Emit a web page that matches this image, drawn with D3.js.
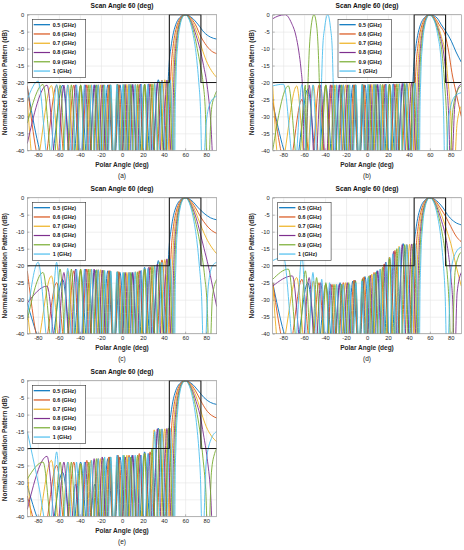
<!DOCTYPE html>
<html><head><meta charset="utf-8">
<script src="https://cdn.jsdelivr.net/npm/d3@7"></script>
<style>
html,body{margin:0;padding:0;background:#fff;}
svg{display:block;font-family:"Liberation Sans",Arial,sans-serif;}
</style></head>
<body>
<svg id="chart" width="464" height="550"></svg>
<script>
// ---------------- DATA ----------------
const freqLabels = ["0.5 (GHz)", "0.6 (GHz)", "0.7 (GHz)", "0.8 (GHz)", "0.9 (GHz)", "1 (GHz)"];
const panelLabels = ["(a)", "(b)", "(c)", "(d)", "(e)"];
const titleText = "Scan Angle 60 (deg)";
const xTickVals = [-80, -60, -40, -20, 0, 20, 40, 60, 80];
const yTickVals = [-40, -35, -30, -25, -20, -15, -10, -5, 0];
const maskAngles = [-90, 45, 45, 75, 75, 90];
const maskLevels = [-20, -20, 0, 0, -20, -20];
const NULL_DB = -46; // depth of pattern nulls (below the axis floor)

// sidelobe peak angles per frequency (deg)
const peaks05 = [-56.5, -39.3, -25.7, -13.5, -1.9, 9.6, 21.5, 34.5];
const peaks06 = [-62.1, -45.8, -33.4, -22.6, -12.5, -2.9, 6.7, 16.4, 26.7, 38.0];
const peaks07 = [-67.1, -51.1, -39.4, -29.5, -20.4, -11.9, -3.6, 4.6, 12.9, 21.5, 30.6, 40.7];
const peaks08 = [-71.2, -55.2, -44.1, -34.9, -26.5, -18.8, -11.3, -4.1, 3.1, 10.3, 17.7, 25.4, 33.6, 42.7];
const peaks09 = [-75.0, -58.8, -48.1, -39.3, -31.5, -24.3, -17.5, -10.9, -4.5, 1.9, 8.3, 14.8, 21.5, 28.5, 36.0, 44.4];
const peaks10 = [-79.7, -62.1, -51.6, -43.2, -35.7, -28.9, -22.6, -16.5, -10.6, -4.8, 0.9, 6.7, 12.5, 18.4, 24.6, 31.1, 38.0, 45.7];
// null angles per frequency (deg)
const nulls05 = [-69.1, -47.2, -32.3, -19.5, -7.7, 3.8, 15.4, 27.8, 41.8];
const nulls06 = [-75.3, -53.2, -39.3, -27.8, -17.5, -7.7, 1.9, 11.5, 21.5, 32.2, 44.4];
const nulls07 = [-83.2, -58.2, -45.0, -34.3, -24.9, -16.1, -7.8, 0.5, 8.7, 17.1, 25.9, 35.5, 46.3];
const nulls08 = [-62.1, -49.4, -39.3, -30.6, -22.6, -15.0, -7.7, -0.5, 6.7, 13.9, 21.5, 29.4, 38.0, 47.8];
const nulls09 = [-65.5, -53.0, -43.5, -35.2, -27.8, -20.8, -14.1, -7.6, -1.3, 5.1, 11.5, 18.1, 25.0, 32.2, 40.1, 49.0];
const nulls10 = [-69.1, -56.5, -47.2, -39.3, -32.3, -25.7, -19.5, -13.5, -7.7, -1.9, 3.8, 9.6, 15.4, 21.5, 27.8, 34.5, 41.8, 50.0];
// main-lobe rising edge per frequency [deg, dB]
const mainLeft05 = [[42.8,-27],[43.8,-20],[44.9,-14],[46.6,-9.5],[48.3,-6.2],[51,-3],[54.7,-0.9],[60,0]];
const mainLeft06 = [[45.3,-27],[46.1,-20],[47.1,-14],[48.5,-9.5],[50,-6.2],[52.5,-3],[55.5,-0.9],[60,0]];
const mainLeft07 = [[47.1,-27],[47.9,-20],[48.8,-14],[50,-9.5],[51.3,-6.2],[53.4,-3],[56.1,-0.9],[60,0]];
const mainLeft08 = [[48.6,-27],[49.2,-20],[50,-14],[51.1,-9.5],[52.3,-6.2],[54.2,-3],[56.6,-0.9],[60,0]];
const mainLeft09 = [[49.7,-27],[50.3,-20],[50.9,-14],[52,-9.5],[53,-6.2],[54.8,-3],[57,-0.9],[60,0]];
const mainLeft10 = [[50.6,-27],[51.2,-20],[51.8,-14],[52.8,-9.5],[53.7,-6.2],[55.3,-3],[57.3,-0.9],[60,0]];

// per panel: value at -90 deg followed by each sidelobe peak level (dB)
const levelsA = [
  [-21.5,-20.8,-20.8,-20.7,-20.7,-20.7,-20.6,-20.5,-19.2],
  [-21,-20.8,-20.8,-20.7,-20.7,-20.7,-20.7,-20.6,-20.6,-20.4,-19.3],
  [-25,-20.9,-20.8,-20.8,-20.7,-20.7,-20.7,-20.7,-20.6,-20.6,-20.5,-20.3,-19.2],
  [-38,-20.8,-20.8,-20.7,-20.7,-20.7,-20.7,-20.7,-20.6,-20.6,-20.6,-20.5,-20.4,-20.2,-19.3],
  [-32,-20.6,-20.8,-20.7,-20.7,-20.7,-20.7,-20.7,-20.7,-20.6,-20.6,-20.6,-20.6,-20.5,-20.4,-19.8,-19.3],
  [-25,-19.6,-20.6,-20.7,-20.7,-20.7,-20.7,-20.7,-20.7,-20.7,-20.6,-20.6,-20.6,-20.6,-20.5,-20.5,-20.3,-19.5,-19.2]
];
const levelsB = [
  [-26,-22,-20.8,-20.7,-20.7,-20.7,-20.6,-20.5,-20.3],
  [-25,-25,-20.8,-20.7,-20.7,-20.7,-20.7,-20.6,-20.6,-20.5,-20.3],
  [-21,-21,-20.8,-20.8,-20.7,-20.7,-20.7,-20.7,-20.6,-20.6,-20.5,-20.4,-20.2],
  [-1.2,-20.8,-20.8,-20.7,-20.7,-20.7,-20.7,-20.7,-20.6,-20.6,-20.6,-20.5,-20.4,-20.3,-20.2],
  [-40,-21,-20.8,-20.7,-20.7,-20.7,-20.7,-20.7,-20.7,-20.6,-20.6,-20.6,-20.6,-20.5,-20.4,-20.3,-20.2],
  [-21,-20.5,-20.6,-20.7,-20.7,-20.7,-20.7,-20.7,-20.7,-20.7,-20.6,-20.6,-20.6,-20.6,-20.5,-20.5,-20.4,-20.3,-20.2]
];
const levelsC = [
  [-31,-24,-21.5,-21.3,-21.5,-22,-22,-20.5,-18.5],
  [-21.5,-25,-21.5,-21,-21.2,-21.5,-21.8,-22,-21.5,-20.3,-18.3],
  [-33,-23,-21.5,-21,-21,-21.2,-21.5,-21.8,-22,-21.8,-21,-20,-18.2],
  [-31,-26,-22,-21,-21,-21,-21.3,-21.5,-21.8,-22,-22,-21.5,-20.5,-19.5,-18],
  [-36,-22,-21,-21,-21,-21,-21.2,-21.4,-21.6,-21.8,-22,-22,-21.8,-21,-20.2,-19,-18],
  [-35,-19,-19,-20.8,-21,-21,-21,-21.2,-21.4,-21.6,-21.8,-22,-22,-21.8,-21.4,-20.8,-20,-19,-18]
];
const levelsD = [
  [-25,-25,-25.5,-25,-24.5,-23.2,-21.5,-17.5,-13.5],
  [-25,-24,-25,-25.5,-25,-24.3,-23.3,-22,-19.5,-15.5,-13.8],
  [-25,-23.5,-24.5,-25.5,-25.5,-25,-24.3,-23.5,-22.5,-21,-17.5,-14.3,-13.7],
  [-26,-23,-23.5,-25,-25.5,-25.5,-25,-24.3,-23.8,-22.8,-21.5,-19,-15.8,-13.8,-13.6],
  [-24,-21,-21.5,-23.5,-25,-25.5,-25.5,-25,-24.5,-24,-23,-22,-20.5,-18,-15,-13.8,-13.5],
  [-18.5,-17.5,-17,-22,-24,-25,-25.5,-25.5,-25.5,-25,-24.5,-23.5,-22.5,-21,-19,-16.5,-14.5,-13.8,-13.5]
];
const levelsE = [
  [-31,-27,-24,-30.5,-23,-22.5,-22,-21,-14],
  [-34,-25,-24,-23.5,-23,-22.5,-22.5,-22,-21.5,-21,-14.3],
  [-26,-23.5,-24,-24.5,-23.5,-23,-22.5,-22,-22,-22.5,-21.5,-14.5,-14.2],
  [-38,-22.3,-24,-30.5,-24,-23,-22.5,-22.5,-22,-22.5,-22,-22,-21.5,-14.2,-14.1],
  [-29,-24,-24,-24,-24.5,-24,-23,-23,-22.5,-22.5,-22,-22.5,-22,-21.5,-20,-14.3,-14],
  [-15,-30,-21,-24,-24,-24,-23.5,-23,-22.5,-22.5,-22,-22,-22.5,-22,-22,-21.5,-15,-14.2,-14]
];

// per panel: main-lobe falling edge [deg, dB]
const rightA = [
  [[66.4,-0.9],[72.6,-3],[78,-5.2],[84,-6.6],[90,-7.2]],
  [[65.2,-0.9],[69.9,-3],[75,-6.5],[80,-9],[85,-10.7],[90,-11.5]],
  [[64.4,-0.9],[68.3,-3],[72.2,-6.2],[76,-10],[80,-13.5],[85,-16.5],[90,-18.5]],
  [[63.8,-0.9],[67.1,-3],[70.5,-6.2],[74,-10],[77.5,-15],[80.5,-20],[84,-30],[88,-50],[90,-44]],
  [[63.4,-0.9],[66.2,-3],[69,-6.2],[71.5,-10],[74.5,-15],[77,-20],[79,-27],[81.5,-50],[85,-28],[88,-24],[90,-22.5]],
  [[63,-0.9],[65.5,-3],[67.8,-6.2],[69.8,-10],[71.6,-15],[73,-20],[74.5,-27],[76.5,-50],[80,-32],[84,-26],[90,-24]]
];
const rightB = [
  [[67,-1],[71,-3],[75,-4.8],[80.8,-8],[85,-11],[90,-14]],
  [[65,-1],[69,-3],[75,-6.5],[78,-11],[81,-17],[85,-23],[90,-30]],
  [[64,-1],[67.5,-3],[71,-6.5],[74.5,-11],[77.5,-20],[80,-30],[82.5,-50],[86,-32],[90,-27]],
  [[63.5,-1],[66.5,-3],[70,-6.5],[73,-11],[76,-20],[78,-30],[80,-50],[84,-26],[88,-21],[90,-20.5]],
  [[63.2,-1],[66,-3],[69,-6.5],[71.5,-11],[74,-20],[76,-30],[78,-50],[82,-28],[87,-22],[90,-21]],
  [[63,-1],[65.5,-3],[67.8,-6.5],[70,-11],[72,-20],[73.2,-30],[74.5,-50],[78,-30],[84,-24],[90,-23]]
];
const rightC = [
  [[66.4,-0.9],[72.6,-3],[78,-4.6],[84,-5.9],[90,-6.5]],
  [[65.2,-0.9],[69.9,-3],[75,-5.8],[80,-8],[85,-9.6],[90,-10.5]],
  [[64.4,-0.9],[68.3,-3],[72.2,-6],[76,-9],[80,-11.8],[85,-14.5],[90,-16.5]],
  [[63.8,-0.9],[67.1,-3],[70.5,-6],[74,-10],[78,-15],[82,-20],[86,-26],[90,-32]],
  [[63.4,-0.9],[66.2,-3],[69,-6],[72,-10],[75.5,-16],[78.5,-23],[81,-32],[83,-50],[86,-29],[90,-24]],
  [[63,-0.9],[65.5,-3],[67.8,-6],[70,-10],[72,-15],[73.5,-20],[75.5,-28],[78,-50],[82,-26],[86,-20],[90,-19]]
];
const rightD = [
  [[66.4,-0.9],[72.6,-3],[78,-5.5],[84,-7.2],[90,-8]],
  [[65.2,-0.9],[69.9,-3],[75,-5.5],[80,-8.5],[85,-11.3],[90,-13]],
  [[64.4,-0.9],[68.3,-3],[72.2,-6],[76,-9.5],[80,-13.5],[85,-20],[90,-26]],
  [[63.8,-0.9],[67.1,-3],[70.5,-6.2],[74,-10],[77.5,-16],[80,-23],[82,-32],[83.5,-50],[86,-28],[90,-22]],
  [[63.4,-0.9],[66.2,-3],[69,-6.2],[71.5,-10],[74.5,-16],[77,-24],[78.5,-32],[80.5,-50],[84,-22],[87,-17.5],[90,-16]],
  [[63,-0.9],[65.5,-3],[67.8,-6.2],[69.8,-10],[71.6,-15],[73,-20],[74.5,-28],[76.5,-50],[80,-22],[85,-16],[90,-14.5]]
];
const rightE = [
  [[66.4,-0.9],[72.6,-3],[78,-5],[84,-6.4],[90,-7]],
  [[65.2,-0.9],[69.9,-3],[75,-6],[80,-8.6],[85,-10.2],[90,-11]],
  [[64.4,-0.9],[68.3,-3],[72.2,-6.2],[76,-10],[80,-13.5],[85,-16.3],[90,-18]],
  [[63.8,-0.9],[67.1,-3],[70.5,-6.2],[74,-10],[77.5,-16],[81,-23],[84,-32],[87,-50],[90,-42]],
  [[63.4,-0.9],[66.2,-3],[69,-6.2],[71.5,-10],[74.5,-16],[77,-23],[79.5,-32],[82,-50],[85,-27],[88,-21.5],[90,-20]],
  [[63,-0.9],[65.5,-3],[67.8,-6.2],[69.8,-10],[71.6,-15],[73,-20],[74.5,-28],[76.5,-50],[80,-24],[85,-17],[90,-15]]
];
// grating lobes in panel (b) for 0.8, 0.9 and 1 GHz [deg, dB]
const gratingB08 = [[-90,-1.2],[-85,-0.4],[-78,0],[-72,-2.5],[-68,-6],[-65,-11],[-63,-16],[-61.5,-22],[-60.6,-32],[-60,-50]];
const gratingB09 = [[-58,-50],[-57.3,-30],[-56.3,-20],[-55,-10],[-53.5,-4],[-50.6,0],[-47.8,-4],[-46.6,-10],[-45.5,-20],[-44.7,-30],[-44,-50]];
const gratingB10 = [[-45,-50],[-44.3,-30],[-43.4,-20],[-42.3,-10],[-40.5,-4],[-37.5,0],[-34.8,-4],[-33.2,-10],[-32.3,-20],[-31.6,-30],[-31,-50]];

// ---------------- STYLE / LAYOUT ----------------
const colors = ["#0072BD", "#D95319", "#EDB120", "#7E2F8E", "#77AC30", "#4DBEEE"];
const peaksByFreq = [peaks05, peaks06, peaks07, peaks08, peaks09, peaks10];
const nullsByFreq = [nulls05, nulls06, nulls07, nulls08, nulls09, nulls10];
const mainLeftByFreq = [mainLeft05, mainLeft06, mainLeft07, mainLeft08, mainLeft09, mainLeft10];

const panels = [
  {levels: levelsA, right: rightA, grating: [null,null,null,null,null,null], l:27.3, t:14.7, r:216.7, b:150.3, legX:5, ylab:22.3},
  {levels: levelsB, right: rightB, grating: [null,null,null,gratingB08,gratingB09,gratingB10], l:272.7, t:14.7, r:461.3, b:150.3, legX:65.3, ylab:20.7},
  {levels: levelsC, right: rightC, grating: [null,null,null,null,null,null], l:27.3, t:197.7, r:216.7, b:333.7, legX:5, ylab:22.3},
  {levels: levelsD, right: rightD, grating: [null,null,null,null,null,null], l:272.7, t:197.7, r:461.3, b:333.7, legX:5, ylab:20.7},
  {levels: levelsE, right: rightE, grating: [null,null,null,null,null,null], l:27.3, t:380.7, r:216.7, b:516.3, legX:5, ylab:22.3}
];

const svg = d3.select("#chart");
const font = '"Liberation Sans", Arial, sans-serif';

panels.forEach((p, pi) => {
  const w = p.r - p.l, h = p.b - p.t;
  const x = d3.scaleLinear().domain([-90, 90]).range([0, w]);
  const y = d3.scaleLinear().domain([-40, 0]).range([h, 0]);
  const g = svg.append("g").attr("transform", `translate(${p.l},${p.t})`);

  // grid
  g.append("g").attr("transform", `translate(0,${h})`)
    .call(d3.axisBottom(x).tickValues(xTickVals).tickSize(-h).tickFormat(""))
    .call(s => { s.select(".domain").remove(); s.selectAll("line").attr("stroke", "#e4e4e4").attr("stroke-width", 0.6); });
  g.append("g")
    .call(d3.axisLeft(y).tickValues(yTickVals).tickSize(-w).tickFormat(""))
    .call(s => { s.select(".domain").remove(); s.selectAll("line").attr("stroke", "#e4e4e4").attr("stroke-width", 0.6); });

  // clip
  const cid = "clip" + pi;
  g.append("clipPath").attr("id", cid).append("rect").attr("width", w).attr("height", h);

  const line = d3.line().x(d => x(d[0])).y(d => y(d[1])).curve(d3.curveMonotoneX);
  const curves = g.append("g").attr("clip-path", `url(#${cid})`);

  for (let i = 0; i < 6; i++) {
    let pts = [[-90, p.levels[i][0]]];
    peaksByFreq[i].forEach((a, k) => pts.push([a, p.levels[i][k + 1]]));
    nullsByFreq[i].forEach(a => pts.push([a, NULL_DB]));
    mainLeftByFreq[i].forEach(d => pts.push(d));
    p.right[i].forEach(d => pts.push(d));
    const gr = p.grating[i];
    if (gr) {
      const lo = gr[0][0], hi = gr[gr.length - 1][0];
      pts = pts.filter(d => d[0] < lo || d[0] > hi).concat(gr);
    }
    pts.sort((a, b) => a[0] - b[0]);
    curves.append("path").datum(pts)
      .attr("d", line).attr("fill", "none")
      .attr("stroke", colors[i]).attr("stroke-width", 0.9)
      .attr("stroke-linejoin", "round");
  }

  // mask
  const maskPts = maskAngles.map((a, k) => [a, maskLevels[k]]);
  g.append("path").datum(maskPts)
    .attr("d", d3.line().x(d => x(d[0])).y(d => y(d[1])))
    .attr("fill", "none").attr("stroke", "#1a1a1a").attr("stroke-width", 1.1);

  // box
  g.append("rect").attr("width", w).attr("height", h)
    .attr("fill", "none").attr("stroke", "#8a8a8a").attr("stroke-width", 0.6);

  // axes labels
  const xa = g.append("g").attr("transform", `translate(0,${h})`)
    .call(d3.axisBottom(x).tickValues(xTickVals).tickSize(-2).tickPadding(2.6).tickFormat(d => String(d)));
  xa.select(".domain").remove();
  xa.selectAll("line").attr("stroke", "#777").attr("stroke-width", 0.5);
  xa.selectAll("text").attr("font-size", 5.8).attr("fill", "#262626").attr("font-family", font);

  const ya = g.append("g")
    .call(d3.axisLeft(y).tickValues(yTickVals).tickSize(-2).tickPadding(3).tickFormat(d => String(d)));
  ya.select(".domain").remove();
  ya.selectAll("line").attr("stroke", "#777").attr("stroke-width", 0.5);
  ya.selectAll("text").attr("font-size", 5.8).attr("fill", "#262626").attr("font-family", font);

  // title
  g.append("text").attr("x", w / 2).attr("y", -7.2).attr("text-anchor", "middle")
    .attr("font-size", 6.6).attr("font-weight", "bold").attr("fill", "#111").text(titleText);
  // x label
  g.append("text").attr("x", w / 2).attr("y", h + 16.7).attr("text-anchor", "middle")
    .attr("font-size", 6.5).attr("font-weight", "bold").attr("fill", "#262626").text("Polar Angle (deg)");
  // y label
  g.append("text").attr("transform", `translate(${-p.ylab + 2.3},${h / 2}) rotate(-90)`)
    .attr("text-anchor", "middle").attr("font-size", 6.5).attr("font-weight", "bold")
    .attr("fill", "#262626").text("Normalized Radiation Pattern (dB)");
  // panel caption
  g.append("text").attr("x", w / 2).attr("y", h + 27.5).attr("text-anchor", "middle")
    .attr("font-size", 6.5).attr("fill", "#222").text(panelLabels[pi]);

  // legend
  const lg = g.append("g").attr("transform", `translate(${p.legX},4.6)`);
  lg.append("rect").attr("width", 53.4).attr("height", 58)
    .attr("fill", "#fff").attr("stroke", "#333").attr("stroke-width", 0.6);
  freqLabels.forEach((lab, i) => {
    const yy = 5.4 + i * 9.27;
    lg.append("line").attr("x1", 1.4).attr("x2", 17.7).attr("y1", yy).attr("y2", yy)
      .attr("stroke", colors[i]).attr("stroke-width", 1.2);
    lg.append("text").attr("x", 20.4).attr("y", yy).attr("dy", "0.35em")
      .attr("font-size", 5.4).attr("font-weight", "bold").attr("fill", "#111").text(lab);
  });
});
</script>
</body></html>
